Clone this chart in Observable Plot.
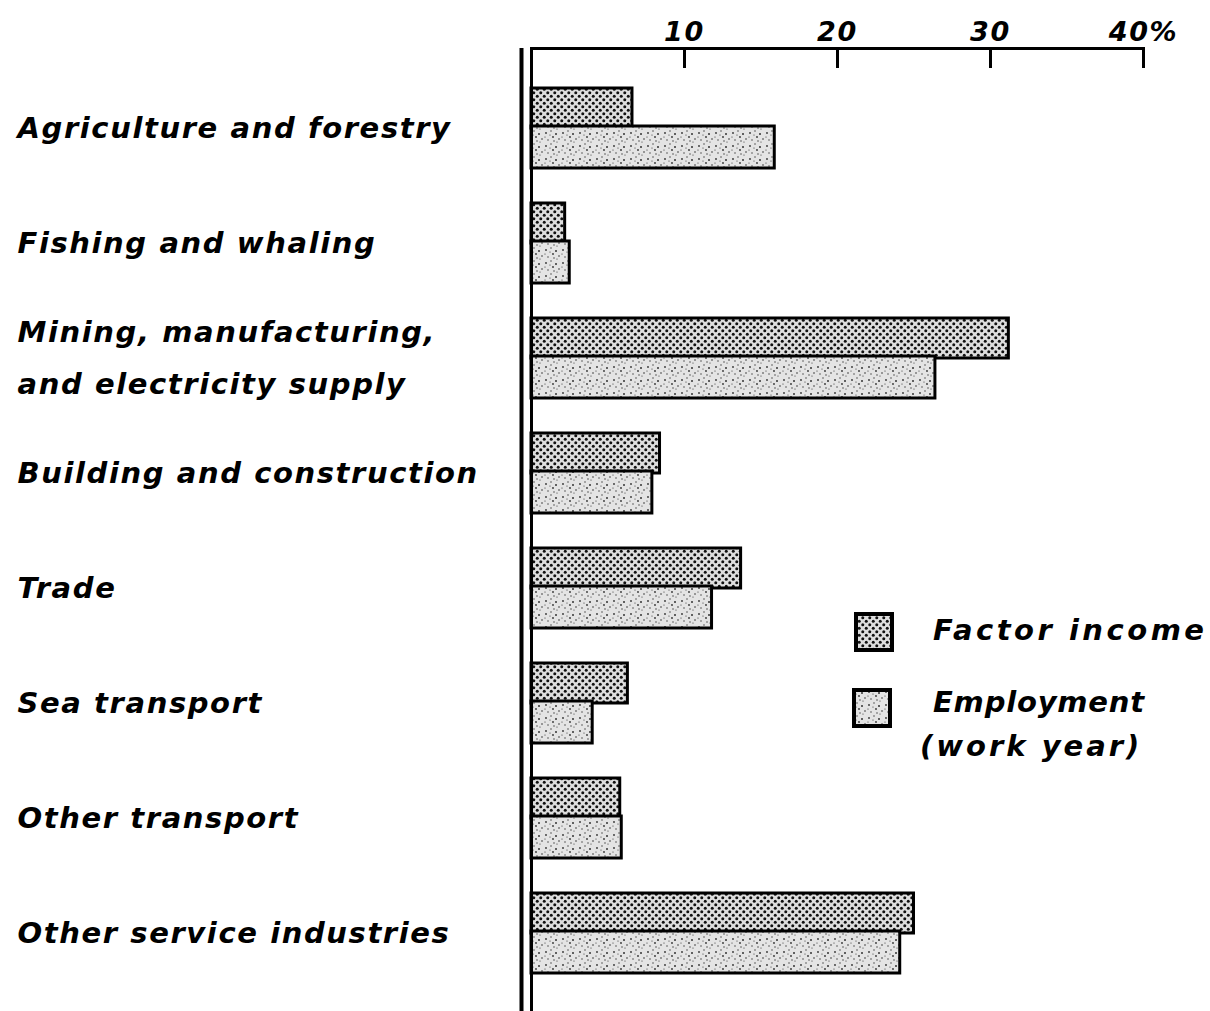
<!DOCTYPE html>
<html>
<head>
<meta charset="utf-8">
<script src="https://cdn.jsdelivr.net/npm/d3@7"></script>
<script src="https://cdn.jsdelivr.net/npm/@observablehq/plot@0.6"></script>
<style>
  html, body { margin: 0; padding: 0; background: #fff; }
  svg { display: block; }
</style>
</head>
<body>
<div id="chart"></div>
<script>
const categories = [
  "Agriculture and forestry",
  "Fishing and whaling",
  "Mining, manufacturing,\nand electricity supply",
  "Building and construction",
  "Trade",
  "Sea transport",
  "Other transport",
  "Other service industries"
];
const factorIncome = [6.6, 2.2, 31.2, 8.4, 13.7, 6.3, 5.8, 25.0];
const employment  = [15.9, 2.5, 26.4, 7.9, 11.8, 4.0, 5.9, 24.1];
const tickValues = [10, 20, 30, 40];
const tickLabels = ["10", "20", "30", "40%"];
const seriesNames = ["Factor income", "Employment", "(work year)"];

const factorData = categories.map((c, i) => ({category: c, value: factorIncome[i]}));
const employmentData = categories.map((c, i) => ({category: c, value: employment[i]}));
const tickData = tickValues.map((v, i) => ({value: v, label: tickLabels[i]}));

const W = 1210, H = 1011, mTop = 48;
const font = {fontFamily: "DejaVu Sans", fontWeight: "bold", fontStyle: "italic"};

const chart = Plot.plot({
  width: W,
  height: H,
  marginLeft: 531,
  marginRight: 67,
  marginTop: mTop,
  marginBottom: 0,
  x: {domain: [0, 40], axis: null},
  y: {domain: categories, axis: null, paddingInner: 0.304, paddingOuter: 0.152, insetTop: 22, insetBottom: 19},
  style: {letterSpacing: "1.6px", background: "white"},
  marks: [
    Plot.barX(factorData, {x: "value", y: "category", insetBottom: 40, fill: "url(#dots)", stroke: "black", strokeWidth: 3}),
    Plot.barX(employmentData, {x: "value", y: "category", insetTop: 38, fill: "url(#stipple)", stroke: "black", strokeWidth: 3}),
    Plot.ruleX([0], {stroke: "black", strokeWidth: 3}),
    Plot.ruleX([0], {stroke: "black", strokeWidth: 4, dx: -10}),
    Plot.frame({anchor: "top", stroke: "black", strokeWidth: 3}),
    Plot.ruleX(tickData, {x: "value", insetBottom: H - mTop - 20, stroke: "black", strokeWidth: 3}),
    Plot.text(tickData, {x: "value", text: "label", frameAnchor: "top", lineAnchor: "bottom", dy: -8, fontSize: 27, ...font, fill: "black"}),
    Plot.text(categories, {y: d => d, text: d => d, frameAnchor: "left", textAnchor: "start", dx: -514, dy: -7, fontSize: 29, lineHeight: 1.8, ...font, fill: "black"})
  ]
});

const svg = d3.select(chart);
const defs = svg.insert("defs", ":first-child");
// dot screen pattern for factor income
const dots = defs.append("pattern").attr("id", "dots").attr("patternUnits", "userSpaceOnUse")
  .attr("width", 7).attr("height", 7);
dots.append("rect").attr("width", 7).attr("height", 7).attr("fill", "#dedede");
dots.append("circle").attr("cx", 1.75).attr("cy", 1.75).attr("r", 1.5).attr("fill", "#111");
dots.append("circle").attr("cx", 5.25).attr("cy", 5.25).attr("r", 1.5).attr("fill", "#111");
// stipple pattern for employment
const st = defs.append("pattern").attr("id", "stipple").attr("patternUnits", "userSpaceOnUse")
  .attr("width", 17).attr("height", 13);
st.append("rect").attr("width", 17).attr("height", 13).attr("fill", "#e4e4e4");
const specks = [[2,3,0.9],[7,1,0.7],[12,4,1.0],[15,9,0.8],[4,10,0.7],[9,7,0.9],[13,12,0.6],[1,7,0.6],[10,11,0.7],[6,5,0.6]];
specks.forEach(([x, y, r]) => st.append("circle").attr("cx", x).attr("cy", y).attr("r", r).attr("fill", "#333"));

// legend
const lg = svg.append("g").attr("font-family", "DejaVu Sans").attr("font-weight", "bold").attr("font-style", "italic")
  .attr("font-size", 29).attr("text-anchor", "start");
lg.append("rect").attr("x", 856).attr("y", 614).attr("width", 36).attr("height", 36).attr("fill", "url(#dots)").attr("stroke", "black").attr("stroke-width", 4);
lg.append("rect").attr("x", 854).attr("y", 690).attr("width", 36).attr("height", 36).attr("fill", "url(#stipple)").attr("stroke", "black").attr("stroke-width", 4);
lg.append("text").attr("x", 933).attr("y", 640).attr("letter-spacing", "3.5px").text(seriesNames[0]);
lg.append("text").attr("x", 933).attr("y", 712).attr("letter-spacing", "0.8px").text(seriesNames[1]);
lg.append("text").attr("x", 920).attr("y", 756).attr("letter-spacing", "3px").text(seriesNames[2]);

document.getElementById("chart").appendChild(chart);
</script>
</body>
</html>
